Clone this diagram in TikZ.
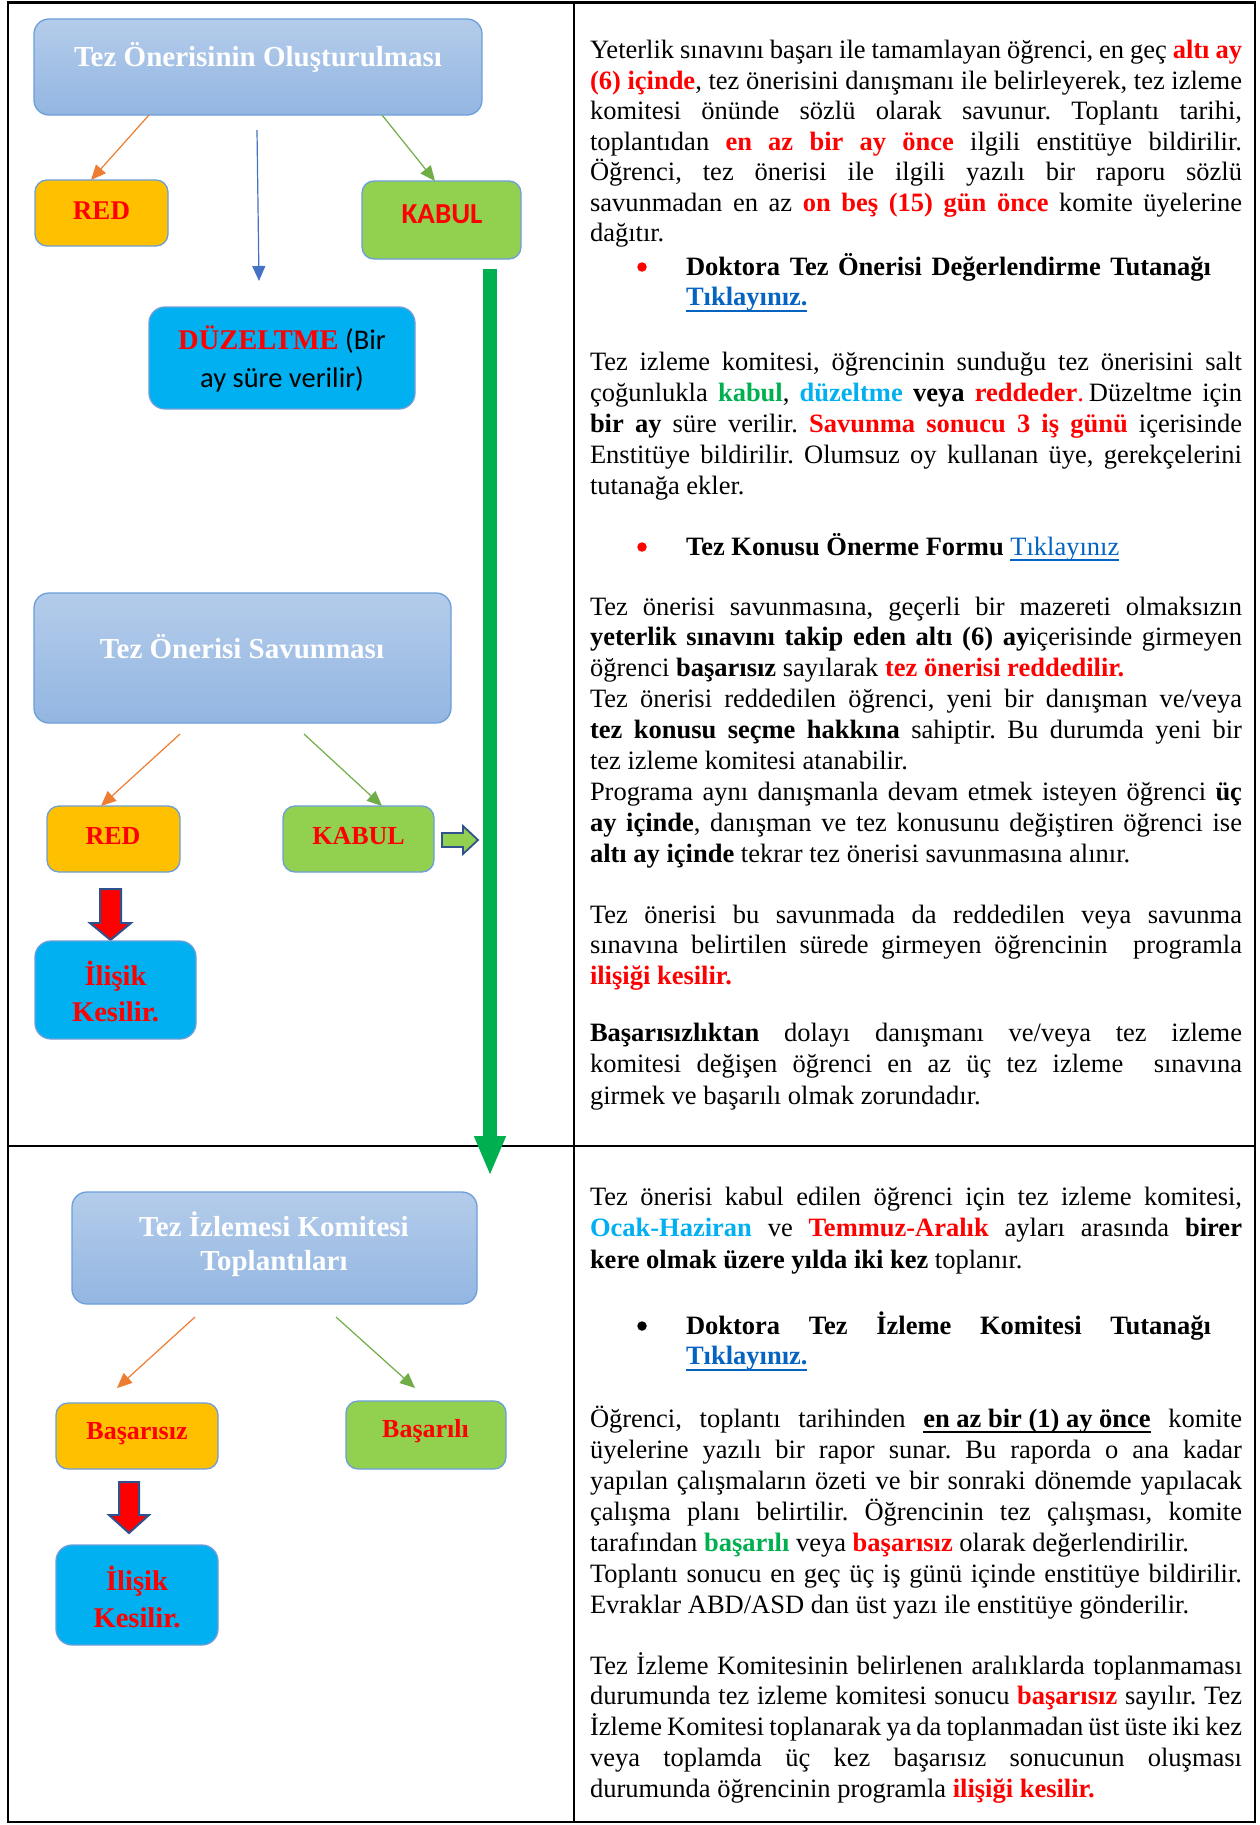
\documentclass[tikz,border=0pt]{standalone}
\usepackage{fontspec}
\setmainfont{Liberation Serif}
\newfontfamily\calfont{Carlito}
\usetikzlibrary{arrows.meta}
\definecolor{tred}{HTML}{FF0000}
\definecolor{tgreen}{HTML}{00B050}
\definecolor{tcyan}{HTML}{00B0F0}
\definecolor{lnkblue}{HTML}{0563C1}
\definecolor{boxedge}{HTML}{6C9FDA}
\definecolor{hdrtop}{HTML}{B4CCEA}
\definecolor{hdrbot}{HTML}{93B6E2}
\definecolor{orfill}{HTML}{FFC000}
\definecolor{grfill}{HTML}{92D050}
\definecolor{cyfill}{HTML}{00B0F0}
\definecolor{arrOr}{HTML}{ED7D31}
\definecolor{arrGr}{HTML}{70AD47}
\definecolor{arrBl}{HTML}{4472C4}
\definecolor{barGr}{HTML}{00B050}
\definecolor{dkblue}{HTML}{2F528F}

\newcommand\bodyfont{\fontsize{26.5}{30.6}\selectfont\frenchspacing}
\newcommand\redb[1]{{\bfseries\color{tred}#1}}
\newcommand\grnb[1]{{\bfseries\color{tgreen}#1}}
\newcommand\cyb[1]{{\bfseries\color{tcyan}#1}}
\newcommand\bld[1]{{\bfseries #1}}
\newcommand\ulx[1]{\setbox0\hbox{#1}\rlap{\rule[-6pt]{\wd0}{2pt}}\box0\relax}
\newcommand\lnkb[1]{{\bfseries\color{lnkblue}\ulx{#1}}}
\newcommand\lnkr[1]{{\color{lnkblue}\ulx{#1}}}
\newcommand\jline[1]{\hbox to 652pt{#1}}
\newcommand\bline[1]{\hbox to 525pt{#1}}
\newcommand\lline[1]{\hbox{#1}}
\newcommand\txtblock[2]{\vtop{\baselineskip=#1pt\relax #2}}

\tikzset{
  hdrbox/.style={draw=boxedge, line width=1.3pt, rounded corners=15pt, top color=hdrtop, bottom color=hdrbot, inner sep=0pt, outer sep=0pt},
  sbox/.style={draw=boxedge, line width=1.3pt, rounded corners=12pt, inner sep=0pt, outer sep=0pt},
  hdrtxt/.style={font=\bfseries\fontsize{29}{34}\selectfont, text=white, align=center, inner sep=0pt},
  lbl/.style={font=\bfseries\fontsize{26}{36}\selectfont, text=tred, align=center, inner sep=0pt},
  thinarr/.style={line width=1.2pt, -{Triangle[length=15pt,width=13pt]}},
  tblock/.style={anchor=base west, inner sep=0pt, outer sep=0pt, font=\bodyfont},
  bul/.style={circle, inner sep=0pt, outer sep=0pt, minimum size=9.5pt}
}

\begin{document}
\begin{tikzpicture}[x=1pt,y=-1pt]
\fill[white] (0,0) rectangle (1260,1825);
\useasboundingbox (0,0) rectangle (1260,1825);

% table frame
\draw[line width=2.5pt] (8,2.5) rectangle (1255,1822);
\draw[line width=2.5pt] (574,2.5) -- (574,1822);
\draw[line width=2.5pt] (8,1146) -- (1255,1146);

% ---------- left column, top cell ----------
\node[hdrbox, minimum width=448pt, minimum height=96pt] (h1) at (258,67) {};
\node[hdrtxt] (h1t) at (258,57) {Tez Önerisinin Oluşturulması};

\node[sbox, fill=orfill, minimum width=133pt, minimum height=66pt] (red1) at (101.5,213) {};
\node[lbl, font=\bfseries\fontsize{27}{30}\selectfont] (red1t) at (101.5,211) {RED};

\node[sbox, fill=grfill, minimum width=159pt, minimum height=78pt] (kab1) at (441.5,220) {};
\node[lbl, font=\calfont\bfseries\fontsize{29}{32}\selectfont] (kab1t) at (442,214) {KABUL};

\node[sbox, fill=cyfill, rounded corners=16pt, minimum width=266pt, minimum height=102pt] (dz) at (282,358) {};
\node[align=center, inner sep=0pt, font=\fontsize{28.5}{38}\selectfont] (dzt) at (282,359)
  {{\bfseries\color{tred}DÜZELTME}{\calfont\ (Bir}\\{\calfont ay süre verilir)}};

\draw[thinarr, arrOr] ([xshift=115pt]h1.south west) -- ([xshift=56pt]red1.north west);
\draw[thinarr, arrGr] ([xshift=348pt]h1.south west) -- ([xshift=73pt]kab1.north west);
\draw[thinarr, arrBl] ([xshift=223pt,yshift=-15pt]h1.south west) -- ([xshift=110pt,yshift=26pt]dz.north west);

\node[hdrbox, minimum width=417pt, minimum height=130pt] (h2) at (242.5,658) {};
\node[hdrtxt] (h2t) at (242,647) {Tez Önerisi Savunması};

\node[sbox, fill=orfill, minimum width=133pt, minimum height=66pt] (red2) at (113.5,839) {};
\node[lbl] (red2t) at (113,836) {RED};
\node[sbox, fill=grfill, minimum width=151pt, minimum height=66pt] (kab2) at (358.5,839) {};
\node[lbl] (kab2t) at (358.5,836) {KABUL};

\draw[thinarr, arrOr] ([xshift=146pt,yshift=-11pt]h2.south west) -- ([xshift=54pt]red2.north west);
\draw[thinarr, arrGr] ([xshift=270pt,yshift=-11pt]h2.south west) -- ([xshift=99pt]kab2.north west);

% small green block arrow
\draw[fill=grfill, draw=dkblue, line width=1.8pt, line join=miter]
  (442,833) -- (463,833) -- (463,826) -- (478,840) -- (463,854) -- (463,847) -- (442,847) -- cycle;

% red down arrow 1
\draw[fill=tred, draw=dkblue, line width=2pt, line join=miter]
  (100,889) -- (121,889) -- (121,923) -- (131,923) -- (110.5,940) -- (90,923) -- (100,923) -- cycle;

\node[sbox, fill=cyfill, rounded corners=16pt, minimum width=161pt, minimum height=98pt] (il1) at (115.5,990) {};
\node[lbl, font=\bfseries\fontsize{28.5}{36}\selectfont] (il1t) at (115.5,991) {İlişik\\Kesilir.};

% green bar arrow
\coordinate (gs) at (490,269);
\coordinate (ge) at (490,1176);
\draw[barGr, line width=14pt, -{Triangle[length=40pt,width=29pt]}] (gs) -- (ge);

% ---------- left column, bottom cell ----------
\node[hdrbox, minimum width=405pt, minimum height=112pt] (h3) at (274.5,1248) {};
\node[hdrtxt] (h3t) at (274,1244) {Tez İzlemesi Komitesi\\Toplantıları};

\node[sbox, fill=orfill, minimum width=162pt, minimum height=66pt] (bas1) at (137,1436) {};
\node[lbl] (bas1t) at (137,1434) {Başarısız};
\node[sbox, fill=grfill, minimum width=160pt, minimum height=68pt] (bas2) at (426,1435) {};
\node[lbl] (bas2t) at (425.5,1431) {Başarılı};

\draw[thinarr, arrOr] ([xshift=123pt,yshift=-13pt]h3.south west) -- ([xshift=61pt,yshift=15pt]bas1.north west);
\draw[thinarr, arrGr] ([xshift=264pt,yshift=-13pt]h3.south west) -- ([xshift=69pt,yshift=13pt]bas2.north west);

% red down arrow 2
\draw[fill=tred, draw=dkblue, line width=2pt, line join=miter]
  (119,1482) -- (139,1482) -- (139,1515) -- (149,1515) -- (129,1533) -- (109,1515) -- (119,1515) -- cycle;

\node[sbox, fill=cyfill, rounded corners=16pt, minimum width=162pt, minimum height=100pt] (il2) at (137,1595) {};
\node[lbl, font=\bfseries\fontsize{28.5}{37}\selectfont] (il2t) at (137,1597) {İlişik\\Kesilir.};

% ---------- right column, top cell ----------
\node[tblock] (p1) at (590,59) {\txtblock{30.5}{%
\jline{Yeterlik sınavını başarı ile tamamlayan öğrenci, en geç \redb{altı ay}}
\jline{\redb{(6) içinde}, tez önerisini danışmanı ile belirleyerek, tez izleme}
\jline{komitesi önünde sözlü olarak savunur. Toplantı tarihi,}
\jline{toplantıdan \redb{en az bir ay önce} ilgili enstitüye bildirilir.}
\jline{Öğrenci, tez önerisi ile ilgili yazılı bir raporu sözlü}
\jline{savunmadan en az \redb{on beş (15) gün önce} komite üyelerine}
\lline{dağıtır.}}};

\node[bul, fill=tred] (bu1) at (642,267) {};
\node[tblock] (bt1) at (686,275) {\txtblock{30.5}{%
\bline{\bld{Doktora Tez Önerisi Değerlendirme Tutanağı}}
\lline{\lnkb{Tıklayınız.}}}};

\node[tblock] (p2) at (590,370) {\txtblock{31}{%
\jline{Tez izleme komitesi, öğrencinin sunduğu tez önerisini salt}
\jline{çoğunlukla \grnb{kabul}, \cyb{düzeltme} \bld{veya} \redb{reddeder}{\color{tred}.}\hspace{5pt}Düzeltme için}
\jline{\bld{bir ay} süre verilir. \redb{Savunma sonucu 3 iş günü} içerisinde}
\jline{Enstitüye bildirilir. Olumsuz oy kullanan üye, gerekçelerini}
\lline{tutanağa ekler.}}};

\node[bul, fill=tred] (bu2) at (642,547) {};
\node[tblock] (bt2) at (686,555) {\lline{\bld{Tez Konusu Önerme Formu} \lnkr{Tıklayınız}}};

\node[tblock] (p3) at (590,615) {\txtblock{30.9}{%
\jline{Tez önerisi savunmasına, geçerli bir mazereti olmaksızın}
\jline{\bld{yeterlik sınavını takip eden altı (6) ay}içerisinde girmeyen}
\lline{öğrenci \bld{başarısız} sayılarak \redb{tez önerisi reddedilir.}}
\jline{Tez önerisi reddedilen öğrenci, yeni bir danışman ve/veya}
\jline{\bld{tez konusu seçme hakkına} sahiptir. Bu durumda yeni bir}
\lline{tez izleme komitesi atanabilir.}
\jline{Programa aynı danışmanla devam etmek isteyen öğrenci \bld{üç}}
\jline{\bld{ay içinde}, danışman ve tez konusunu değiştiren öğrenci ise}
\lline{\bld{altı ay içinde} tekrar tez önerisi savunmasına alınır.}}};

\node[tblock] (p4) at (590,923) {\txtblock{30.7}{%
\jline{Tez önerisi bu savunmada da reddedilen veya savunma}
\jline{sınavına belirtilen sürede girmeyen öğrencinin\ \ programla}
\lline{\redb{ilişiği kesilir.}}}};

\node[tblock] (p5) at (590,1041) {\txtblock{31.5}{%
\jline{\bld{Başarısızlıktan} dolayı danışmanı ve/veya tez izleme}
\jline{komitesi değişen öğrenci en az üç tez izleme\ \ sınavına}
\lline{girmek ve başarılı olmak zorundadır.}}};

% ---------- right column, bottom cell ----------
\node[tblock] (q1) at (590,1205) {\txtblock{31.5}{%
\jline{Tez önerisi kabul edilen öğrenci için tez izleme komitesi,}
\jline{\cyb{Ocak-Haziran} ve \redb{Temmuz-Aralık} ayları arasında \bld{birer}}
\lline{\bld{kere olmak üzere yılda iki kez} toplanır.}}};

\node[bul, fill=black] (bu3) at (642,1326) {};
\node[tblock] (bt3) at (686,1334) {\txtblock{30.5}{%
\bline{\bld{Doktora Tez İzleme Komitesi Tutanağı}}
\lline{\lnkb{Tıklayınız.}}}};

\node[tblock] (q2) at (590,1427) {\txtblock{31}{%
\jline{Öğrenci, toplantı tarihinden \ulx{\bld{en az bir (1) ay önce}} komite}
\jline{üyelerine yazılı bir rapor sunar. Bu raporda o ana kadar}
\jline{yapılan çalışmaların özeti ve bir sonraki dönemde yapılacak}
\jline{çalışma planı belirtilir. Öğrencinin tez çalışması, komite}
\lline{tarafından \grnb{başarılı} veya \redb{başarısız} olarak değerlendirilir.}
\jline{Toplantı sonucu en geç üç iş günü içinde enstitüye bildirilir.}
\lline{Evraklar ABD/ASD dan üst yazı ile enstitüye gönderilir.}}};

\node[tblock] (q3) at (590,1674) {\txtblock{30.9}{%
\jline{Tez İzleme Komitesinin belirlenen aralıklarda toplanmaması}
\jline{durumunda tez izleme komitesi sonucu \redb{başarısız} sayılır. Tez}
\jline{İzleme Komitesi toplanarak ya da toplanmadan üst üste iki kez}
\jline{veya toplamda üç kez başarısız sonucunun oluşması}
\lline{durumunda öğrencinin programla \redb{ilişiği kesilir.}}}};

\end{tikzpicture}
\end{document}
